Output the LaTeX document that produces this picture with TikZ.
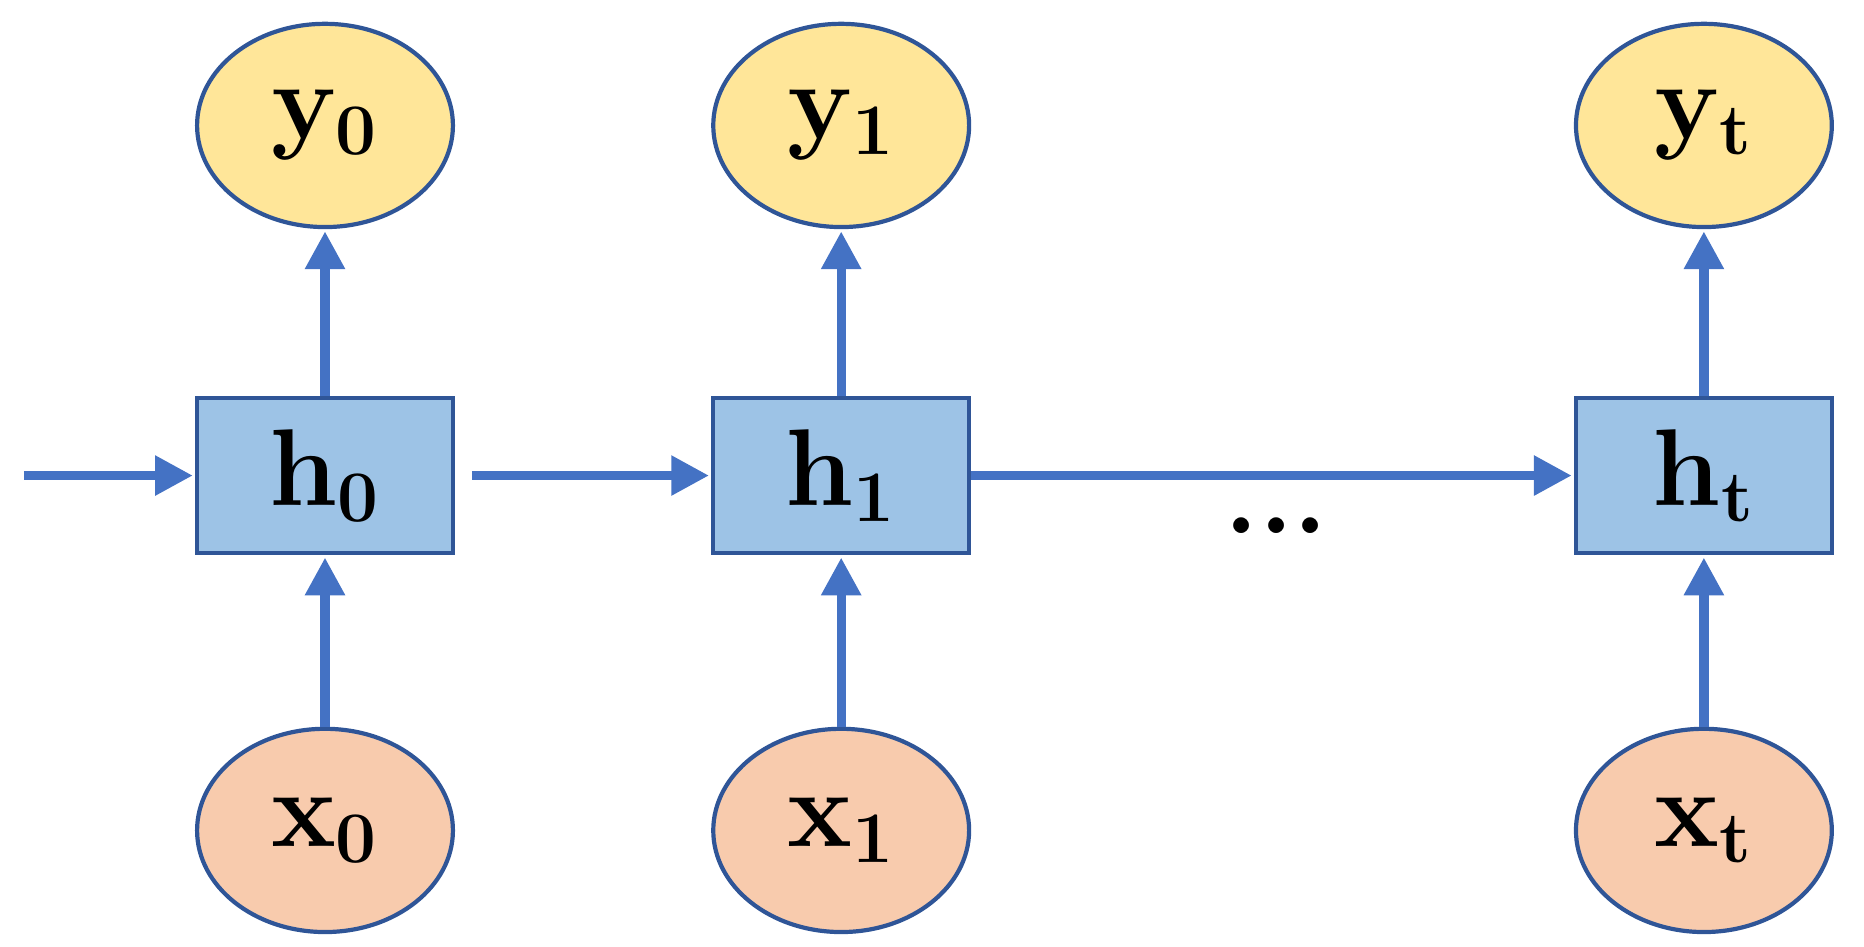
\documentclass[tikz,border=0pt]{standalone}
\usetikzlibrary{shapes.geometric,arrows.meta}
\definecolor{yel}{HTML}{FFE699}
\definecolor{ora}{HTML}{F8CBAD}
\definecolor{bbox}{HTML}{9DC3E6}
\definecolor{edge}{HTML}{2F5597}
\definecolor{arr}{HTML}{4472C4}
\begin{document}
\begin{tikzpicture}[x=0.01cm,y=-0.01cm,
  lab/.style={font=\fontsize{26}{30}\selectfont\bfseries},
  ell/.style={ellipse,draw=edge,line width=1pt,minimum width=2.14cm,minimum height=1.7cm,inner sep=0pt,lab},
  hb/.style={rectangle,draw=edge,line width=1pt,fill=bbox,minimum width=2.14cm,minimum height=1.3cm,inner sep=0pt,lab},
  con/.style={draw=arr,line width=2.2pt,-{Triangle[length=9pt,width=9pt]},shorten >=0.5pt}]
\useasboundingbox (0,0) rectangle (1560,792);
\foreach \n/\s/\x in {0/0/272,1/1/704,t/t/1426}{
  \node[ell,fill=yel] (y\n) at (\x,105) {y$_{\mathbf{\s}}$};
  \node[hb] (h\n) at (\x,398) {h$_{\mathbf{\s}}$};
  \node[ell,fill=ora] (x\n) at (\x,695) {x$_{\mathbf{\s}}$};
  \draw[con] (x\n) -- (h\n);
  \draw[con] (h\n) -- (y\n);
}
\coordinate (in) at (20,398);
\draw[con] (in) -- (h0);
\draw[con] ([xshift=4pt]h0.east) -- (h1);
\draw[con] (h1) -- (ht);
\node[lab] (dots) at (1068,440) {...};
\end{tikzpicture}
\end{document}
